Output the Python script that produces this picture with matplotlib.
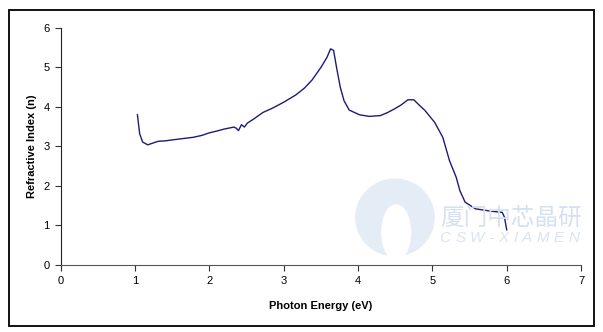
import matplotlib.pyplot as plt
from matplotlib.patches import Ellipse, Rectangle

plt.rcParams['font.family'] = ['Liberation Sans', 'DejaVu Sans']

# photon energy (eV) and refractive index
energy = [1.03, 1.06, 1.10, 1.17, 1.23, 1.31, 1.40, 1.52, 1.65, 1.78, 1.90, 1.99,
          2.10, 2.20, 2.33, 2.36, 2.39, 2.43, 2.47, 2.51, 2.60, 2.72, 2.85, 3.00,
          3.16, 3.28, 3.38, 3.50, 3.58, 3.63, 3.67, 3.71, 3.76, 3.81, 3.88, 4.02,
          4.15, 4.30, 4.40, 4.49, 4.58, 4.67, 4.75, 4.82, 4.90, 5.03, 5.14, 5.23,
          5.32, 5.37, 5.44, 5.58, 5.79, 5.94, 5.97, 6.00]
index_n = [3.80, 3.32, 3.11, 3.04, 3.08, 3.13, 3.14, 3.17, 3.20, 3.23, 3.28, 3.34,
           3.39, 3.44, 3.49, 3.46, 3.40, 3.55, 3.49, 3.59, 3.70, 3.86, 3.97, 4.12,
           4.30, 4.48, 4.68, 5.00, 5.25, 5.47, 5.43, 5.00, 4.50, 4.16, 3.92, 3.80,
           3.76, 3.78, 3.86, 3.95, 4.05, 4.18, 4.18, 4.05, 3.91, 3.61, 3.23, 2.64,
           2.22, 1.88, 1.59, 1.42, 1.36, 1.33, 1.21, 0.89]

x_ticks = [0, 1, 2, 3, 4, 5, 6, 7]
y_ticks = [0, 1, 2, 3, 4, 5, 6]

fig = plt.figure(figsize=(6.03, 3.32), dpi=100)
ax = fig.add_axes([0.101, 0.202, 0.8625, 0.714])

# watermark
fig.patches.append(Ellipse((0.655, 0.345), 0.132, 0.235, transform=fig.transFigure,
                           facecolor='#e4ecf6', edgecolor='none', zorder=0))
fig.patches.append(Ellipse((0.657, 0.30), 0.05, 0.17, transform=fig.transFigure,
                           facecolor='white', edgecolor='none', zorder=0))
fig.text(0.73, 0.323, '厦门中芯晶研', family=['Noto Sans CJK SC', 'DejaVu Sans'],
         fontsize=17, color='#d5e0f0', style='italic', zorder=0)

# letter-spaced subtitle: place each char after the previous one plus a gap
renderer = fig.canvas.get_renderer()
xpos = 0.729
for ch in 'CSW-XIAMEN':
    t = fig.text(xpos, 0.272, ch, fontsize=11, color='#dbe4f2',
                 style='italic', zorder=0)
    w = t.get_window_extent(renderer).width / fig.bbox.width
    xpos += w + 0.0075

ax.patch.set_alpha(0)
ax.plot(energy, index_n, color='#1c1c78', linewidth=1.0)

ax.set_xlim(0, 7)
ax.set_ylim(0, 6)
ax.set_xticks(x_ticks)
ax.set_yticks(y_ticks)
ax.spines['top'].set_visible(False)
ax.spines['right'].set_visible(False)
ax.spines['left'].set_color('#222222')
ax.spines['bottom'].set_color('#555555')
ax.tick_params(direction='out', length=4, width=0.8, labelsize=8, pad=4,
               colors='#333333', labelcolor='black')
ax.set_xlabel('Photon Energy (eV)', fontweight='bold', fontsize=8, labelpad=11)
ax.set_ylabel('Refractive Index (n)', fontweight='bold', fontsize=8, labelpad=5)

fig.patches.append(Rectangle((0.015, 0.018), 0.97, 0.952, transform=fig.transFigure,
                             fill=False, edgecolor='black', linewidth=1.3))

fig.savefig('out.png', dpi=100)
